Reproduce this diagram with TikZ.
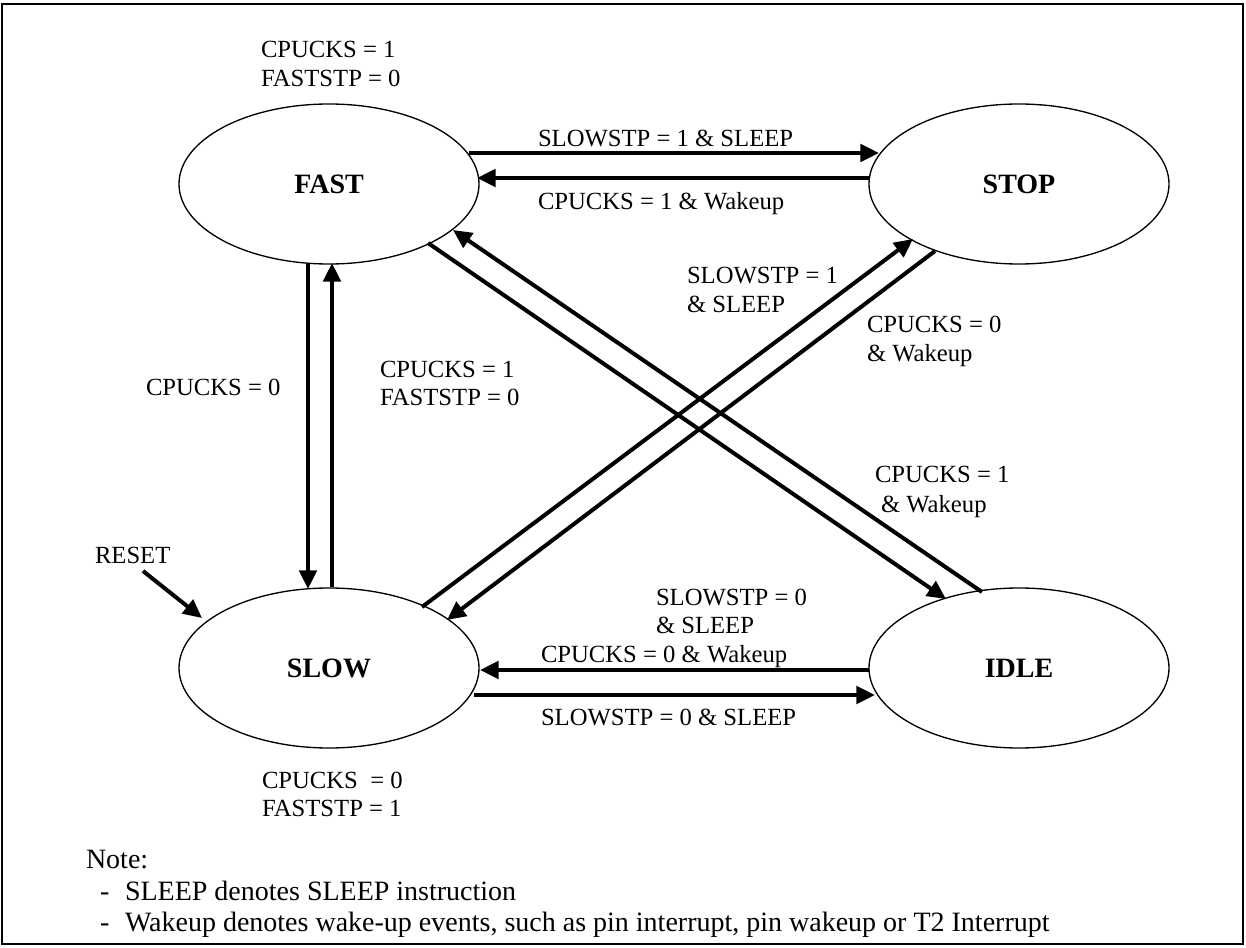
\documentclass[tikz,border=0pt]{standalone}
\usepackage{fontspec}
\setmainfont{Liberation Serif}
\usetikzlibrary{arrows.meta,shapes.geometric,calc}
\begin{document}
\begin{tikzpicture}[x=0.75pt,y=-0.75pt,
  state/.style={draw,ellipse,line width=1pt,minimum width=225pt,minimum height=120pt,inner sep=0pt,outer sep=0pt,font=\fontsize{21}{25}\selectfont\bfseries},
  arr/.style={line width=3pt,-{Triangle[length=14pt,width=13pt]}},
  lbl/.style={anchor=base west,inner sep=0pt,outer sep=0pt,font=\fontsize{18.5}{22}\selectfont},
  notelbl/.style={anchor=base west,inner sep=0pt,outer sep=0pt,font=\fontsize{21}{24}\selectfont}]
\useasboundingbox (0,0) rectangle (1246,948);
\draw[line width=2pt] (2,4) rectangle (1243,944);

\node[state] (FAST) at (329,184) {FAST};
\node[state] (STOP) at (1019,184) {STOP};
\node[state] (SLOW) at (329,668) {SLOW};
\node[state] (IDLE) at (1019,668) {IDLE};

% horizontal top
\draw[arr] ($(FAST.center)+(140,-31)$) -- ($(STOP.center)+(-140,-31)$);
\draw[arr] ($(STOP.center)+(-150,-6)$) -- ($(FAST.center)+(148,-6)$);
% horizontal bottom
\draw[arr] ($(IDLE.center)+(-150,2)$) -- ($(SLOW.center)+(151,2)$);
\draw[arr] ($(SLOW.center)+(145,27)$) -- ($(IDLE.center)+(-144,27)$);
% vertical
\draw[arr] ($(FAST.center)+(-21,79)$) -- ($(SLOW.center)+(-21,-79)$);
\draw[arr] ($(SLOW.center)+(3,-81)$) -- ($(FAST.center)+(3,79)$);
% diagonals
\draw[arr] ($(FAST.center)+(99,59)$) -- ($(IDLE.center)+(-73,-69)$);
\draw[arr] ($(IDLE.center)+(-37,-76)$) -- ($(FAST.center)+(124,46)$);
\draw[arr] ($(SLOW.center)+(93,-61)$) -- ($(STOP.center)+(-106,55)$);
\draw[arr] ($(STOP.center)+(-84,67)$) -- ($(SLOW.center)+(118,-48)$);

% reset
\node[lbl] (RESET) at (95,563) {RESET};
\coordinate (rs) at (143,571);
\draw[arr] (rs) -- ($(SLOW.center)+(-127,-50)$);

% labels
\node[lbl] (fa1) at (261,58) {CPUCKS = 1};
\node[lbl] (fa2) at (261,87) {FASTSTP = 0};
\node[lbl] (t1) at (538,147) {SLOWSTP = 1 \& SLEEP};
\node[lbl] (t2) at (538,210) {CPUCKS = 1 \& Wakeup};
\node[lbl] (v1) at (146,396) {CPUCKS = 0};
\node[lbl] (v2) at (380,378) {CPUCKS = 1};
\node[lbl] (v3) at (380,406) {FASTSTP = 0};
\node[lbl] (d1) at (687,284) {SLOWSTP = 1};
\node[lbl] (d2) at (687,313) {\& SLEEP};
\node[lbl] (d3) at (867,333) {CPUCKS = 0};
\node[lbl] (d4) at (867,362) {\& Wakeup};
\node[lbl] (d5) at (875,482) {CPUCKS = 1};
\node[lbl] (d6) at (881,512) {\& Wakeup};
\node[lbl] (d7) at (656,605) {SLOWSTP = 0};
\node[lbl] (d8) at (656,633) {\& SLEEP};
\node[lbl] (b1) at (541,662) {CPUCKS = 0 \& Wakeup};
\node[lbl] (b2) at (541,725) {SLOWSTP = 0 \& SLEEP};
\node[lbl] (sa1) at (262,788) {CPUCKS\ \ = 0};
\node[lbl] (sa2) at (262,816) {FASTSTP = 1};

% note
\node[notelbl] (note) at (86,868) {Note:};
\node[notelbl] (dash1) at (100,900) {-};
\node[notelbl] (n1) at (125,900) {SLEEP denotes SLEEP instruction};
\node[notelbl] (dash2) at (100,931) {-};
\node[notelbl] (n2) at (125,931) {Wakeup denotes wake-up events, such as pin interrupt, pin wakeup or T2 Interrupt};
\end{tikzpicture}
\end{document}
